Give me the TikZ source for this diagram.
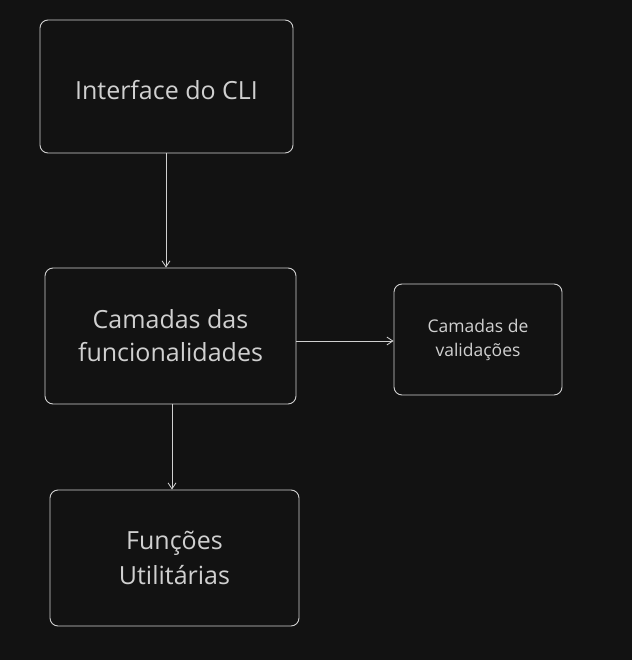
\documentclass[tikz,border=0pt]{standalone}
\usepackage{fontspec}
\setmainfont{Open Sans}
\usetikzlibrary{arrows.meta}
\definecolor{bg}{HTML}{121212}
\definecolor{ink}{HTML}{D0D0D0}
\begin{document}
\begin{tikzpicture}[x=1pt,y=-1pt,
    box/.style={draw=ink,line width=0.9pt,rounded corners=8pt,text=ink,align=center,inner sep=0pt},
    link/.style={draw=ink,line width=0.8pt,-{Straight Barb[length=6pt,width=8pt]}}]
      \fill[bg] (0,0) rectangle (632,660);
      \node[box,minimum width=253pt,minimum height=133pt,font=\fontsize{25}{33}\selectfont] (cli) at (166.5,86.5) {\raisebox{-4pt}[\height][\depth]{Interface do CLI}};
      \node[box,minimum width=251pt,minimum height=136pt,font=\fontsize{25}{33}\selectfont] (func) at (170.5,336) {Camadas das\\funcionalidades};
      \node[box,minimum width=168pt,minimum height=111pt,font=\fontsize{17.5}{24}\selectfont] (valid) at (478,339.5) {Camadas de\\validações};
      \node[box,minimum width=249pt,minimum height=136pt,font=\fontsize{25}{35}\selectfont] (util) at (174.5,558) {Funções\\Utilitárias};
      \draw[link] (cli.south -| 166,0) -- (func.north -| 166,0);
      \draw[link] (func.east |- 0,341) -- (valid.west |- 0,341);
      \draw[link] (func.south -| 172,0) -- (util.north -| 172,0);
    \end{tikzpicture}
\end{document}
